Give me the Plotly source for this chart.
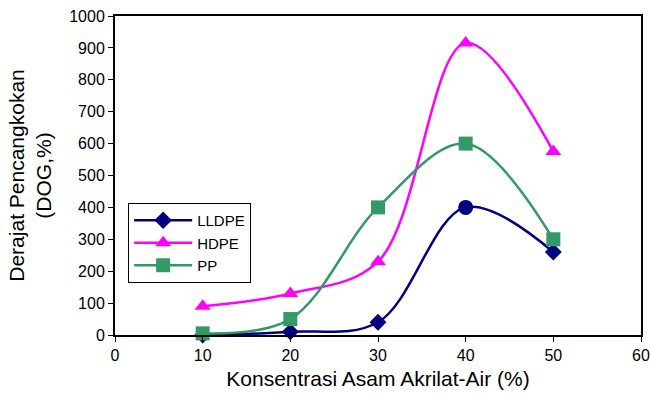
import plotly.graph_objects as go

# Acrylic acid concentration in water (%)
konsentrasi = [10, 20, 30, 40, 50]

# Degree of grafting (DOG, %) for each polymer
dog_lldpe = [0, 10, 40, 400, 260]
dog_hdpe = [90, 130, 230, 915, 575]
dog_pp = [5, 50, 400, 600, 300]

fig = go.Figure()

fig.add_trace(go.Scatter(
    x=konsentrasi, y=dog_lldpe, name="LLDPE", mode="lines+markers",
    line=dict(color="#000080", width=2.5, shape="spline", smoothing=1.0),
    marker=dict(symbol=["diamond", "diamond", "diamond", "circle", "diamond"],
                size=[13, 13, 13, 15, 13], color="#000080", opacity=1,
                line=dict(width=0, color="#000080")),
    cliponaxis=False,
))
fig.add_trace(go.Scatter(
    x=konsentrasi, y=dog_hdpe, name="HDPE", mode="lines+markers",
    line=dict(color="#FF00FF", width=2.5, shape="spline", smoothing=1.0),
    marker=dict(symbol="triangle-up", size=14, color="#FF00FF", opacity=1,
                line=dict(width=0, color="#FF00FF")),
    cliponaxis=False,
))
fig.add_trace(go.Scatter(
    x=konsentrasi, y=dog_pp, name="PP", mode="lines+markers",
    line=dict(color="#339966", width=2.5, shape="spline", smoothing=1.0),
    marker=dict(symbol="square", size=14, color="#339966", opacity=1,
                line=dict(width=0, color="#339966")),
    cliponaxis=False,
))

font_family = "Arial, Liberation Sans, sans-serif"

fig.update_layout(
    width=650, height=394,
    margin=dict(l=115, r=9, t=16, b=59),
    paper_bgcolor="white", plot_bgcolor="white",
    font=dict(family=font_family, size=15, color="black"),
    showlegend=True,
    legend=dict(
        x=0.025, y=0.414, xanchor="left", yanchor="top",
        bordercolor="black", borderwidth=1, bgcolor="white",
        font=dict(size=15, color="black"),
        itemwidth=58, tracegroupgap=0,
    ),
    xaxis=dict(
        range=[0, 60], dtick=10, tick0=0, automargin=False,
        showline=True, linecolor="black", linewidth=2, mirror=True,
        ticks="outside", ticklen=5, tickcolor="black", tickwidth=1,
        showgrid=False, zeroline=False,
        tickfont=dict(size=16),
        title=dict(text="Konsentrasi Asam Akrilat-Air (%)", font=dict(size=21), standoff=8),
    ),
    yaxis=dict(
        range=[0, 1000], dtick=100, tick0=0, automargin=False,
        showline=True, linecolor="black", linewidth=2, mirror=True,
        ticks="outside", ticklen=5, tickcolor="black", tickwidth=1,
        showgrid=False, zeroline=False,
        tickfont=dict(size=16),
        title=dict(text="Derajat Pencangkokan<br>(DOG,%)", font=dict(size=21), standoff=12),
    ),
)

fig.write_html("out.html")
